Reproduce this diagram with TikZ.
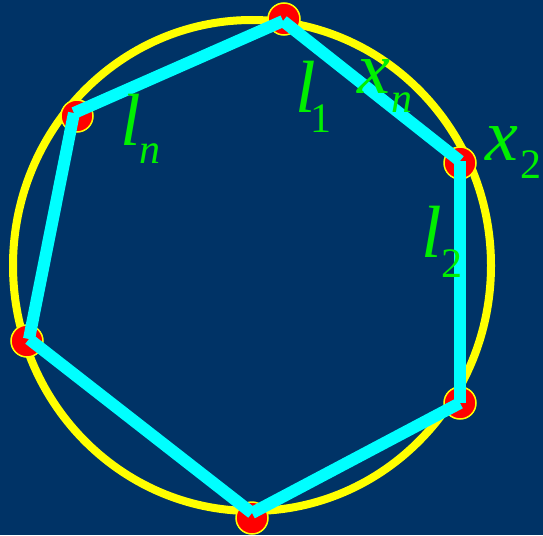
\documentclass[tikz,border=0pt]{standalone}
\usepackage{fontspec}
\setmainfont{Liberation Serif}
\definecolor{bgblue}{HTML}{003366}
\definecolor{lblgreen}{HTML}{00F000}
\definecolor{polycyan}{HTML}{00FFFF}
\definecolor{ringyellow}{HTML}{FFFF00}
\definecolor{dotred}{HTML}{FF0000}
\begin{document}
\begin{tikzpicture}[x=1pt,y=-1pt,
  dotstyle/.style={circle,fill=dotred,draw=ringyellow,line width=1.5pt,minimum size=32pt,inner sep=0pt},
  edgestyle/.style={draw=polycyan,line width=12pt,line cap=butt},
  bigletter/.style={text=lblgreen,anchor=base west,inner sep=0pt,font=\fontsize{74}{74}\selectfont\itshape},
  subletter/.style={text=lblgreen,anchor=base west,inner sep=0pt,font=\fontsize{42}{42}\selectfont},
  subitalic/.style={subletter,font=\fontsize{42}{42}\selectfont\itshape}]
\fill[bgblue] (0,0) rectangle (543,535);
\useasboundingbox (0,0) rectangle (543,535);
% circle
\draw[ringyellow,line width=8pt] (252,265.5) ellipse [x radius=239, y radius=245.5];
% dots
\node[dotstyle] (d1) at (284,19) {};
\node[dotstyle] (d2) at (460,163) {};
\node[dotstyle] (d3) at (460,403) {};
\node[dotstyle] (d4) at (252,518) {};
\node[dotstyle] (d5) at (27,341) {};
\node[dotstyle] (d6) at (77,116) {};
% polygon vertices
\coordinate (v1) at (283,21);
\coordinate (v2) at (460,161);
\coordinate (v3) at (460,403);
\coordinate (v4) at (252,513);
\coordinate (v5) at (29,339);
\coordinate (v6) at (74,113);
\draw[edgestyle] (v1) -- (v2);
\draw[edgestyle] (v2) -- (v3);
\draw[edgestyle] (v3) -- (v4);
\draw[edgestyle] (v4) -- (v5);
\draw[edgestyle] (v5) -- (v6);
\draw[edgestyle] (v6) -- (v1);
% labels
\node[bigletter] (l1) at (295,112) {l};
\node[subletter] (l1s) at (310,132) {1};
\node[bigletter] (xn) at (357,93) {x};
\node[subitalic] (xns) at (391,112) {n};
\node[bigletter] (x2) at (485,160) {x};
\node[subletter] (x2s) at (520,178) {2};
\node[bigletter] (ln) at (120,145) {l};
\node[subitalic] (lns) at (139,163) {n};
\node[bigletter] (l2) at (421,257) {l};
\node[subletter] (l2s) at (441,277) {2};
\end{tikzpicture}
\end{document}
